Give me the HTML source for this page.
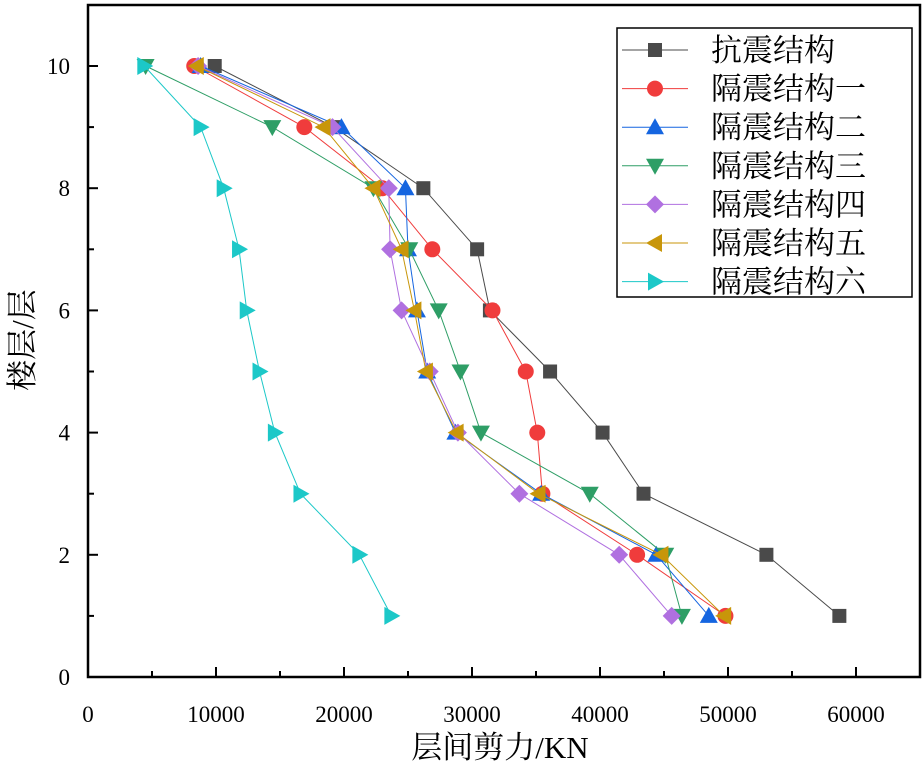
<!DOCTYPE html>
<html><head><meta charset="utf-8"><style>
body{margin:0;background:#fff}
svg text{font-family:"Liberation Serif","Noto Serif CJK SC",serif}
</style></head><body>
<svg id="c" width="924" height="768"></svg>
<script>
const floors=[10,9,8,7,6,5,4,3,2,1];
const seriesNames=["抗震结构","隔震结构一","隔震结构二","隔震结构三","隔震结构四","隔震结构五","隔震结构六"];
const s0=[9900,19200,26200,30400,31400,36100,40200,43400,53000,58700];
const s1=[8300,16900,23000,26900,31600,34200,35100,35500,42900,49800];
const s2=[8800,19800,24800,25000,25700,26500,28700,35400,44400,48500];
const s3=[4500,14400,22300,25100,27400,29100,30700,39200,45100,46400];
const s4=[8600,19100,23500,23600,24500,26700,28900,33700,41500,45600];
const s5=[8500,18400,22300,24500,25500,26400,28800,35200,44800,49700];
const s6=[4400,8800,10600,11800,12400,13400,14600,16600,21200,23700];
const xTicks=[0,10000,20000,30000,40000,50000,60000];
const yTicks=[0,2,4,6,8,10];
const all=[s0,s1,s2,s3,s4,s5,s6];
const colors=["#4a4a4a","#f03c3c","#1565e0","#2e9e66","#b070e0","#c8960a","#1cc8c8"];
const shapes=["square","circle","up","down","diamond","left","right"];
const L=88,R=920,T=5,B=677;
const X=v=>L+v*12.8/1000, Y=v=>B-v*61.1;
const svg=document.getElementById('c');const NS="http://www.w3.org/2000/svg";
function mk(t,a,p){const e=document.createElementNS(NS,t);for(const k in a)e.setAttribute(k,a[k]);(p||svg).appendChild(e);return e;}
function marker(shape,cx,cy,col,g){const r=8;let e;
 if(shape==="square")e=mk('rect',{x:cx-7,y:cy-7,width:14,height:14,fill:col},g);
 else if(shape==="circle")e=mk('circle',{cx:cx,cy:cy,r:8,fill:col},g);
 else{let p;
  if(shape==="up")p=[[0,-r-1],[r+1,r-1],[-r-1,r-1]];
  if(shape==="down")p=[[0,r+1],[r+1,-r+1],[-r-1,-r+1]];
  if(shape==="left")p=[[-r-1,0],[r-1,-r-1],[r-1,r+1]];
  if(shape==="right")p=[[r+1,0],[-r+1,-r-1],[-r+1,r+1]];
  if(shape==="diamond")p=[[0,-r-1],[r+1,0],[0,r+1],[-r-1,0]];
  e=mk('polygon',{points:p.map(q=>(cx+q[0])+','+(cy+q[1])).join(' '),fill:col},g);}
 return e;}
const box=mk('rect',{x:L,y:T,width:R-L,height:B-T,fill:'none',stroke:'#000','stroke-width':2.5});

xTicks.forEach(v=>{mk('line',{x1:X(v),x2:X(v),y1:B,y2:B-10,stroke:'#000','stroke-width':2});
 const t=mk('text',{x:X(v),y:B+45,'font-size':23,'text-anchor':'middle'});t.textContent=v;
 });
for(let v=5000;v<65000;v+=10000)mk('line',{x1:X(v),x2:X(v),y1:B,y2:B-6,stroke:'#000','stroke-width':2});
yTicks.forEach(v=>{mk('line',{x1:L,x2:L+10,y1:Y(v),y2:Y(v),stroke:'#000','stroke-width':2});
 const t=mk('text',{x:L-18,y:Y(v)+8,'font-size':23,'text-anchor':'end'});t.textContent=v;
 });
for(let v=1;v<11;v+=2)mk('line',{x1:L,x2:L+6,y1:Y(v),y2:Y(v),stroke:'#000','stroke-width':2});
const xt=mk('text',{x:500,y:758,'font-size':31,'text-anchor':'middle'});xt.textContent="层间剪力/KN";

const yt=mk('text',{x:0,y:0,'font-size':31,'text-anchor':'middle',transform:'translate(33,340) rotate(-90)'});yt.textContent="楼层/层";

all.forEach((s,i)=>{const g=mk('g',{});
 
 mk('polyline',{points:s.map((v,j)=>X(v)+','+Y(floors[j])).join(' '),fill:'none',stroke:colors[i],'stroke-width':1},g);
 s.forEach((v,j)=>{const m=marker(shapes[i],X(v),Y(floors[j]),colors[i],g);
  });});
const lg=mk('g',{});
mk('rect',{x:617,y:28,width:295,height:269,fill:'#fff',stroke:'#000','stroke-width':1.5},lg);
seriesNames.forEach((n,i)=>{const y=50+i*38.6;const g=mk('g',{},lg);
 
 mk('line',{x1:622,x2:688,y1:y,y2:y,stroke:colors[i],'stroke-width':1},g);
 marker(shapes[i],655,y,colors[i],g);
 const t=mk('text',{x:711,y:y+11,'font-size':31},g);t.textContent=n;});
</script>
</body></html>
